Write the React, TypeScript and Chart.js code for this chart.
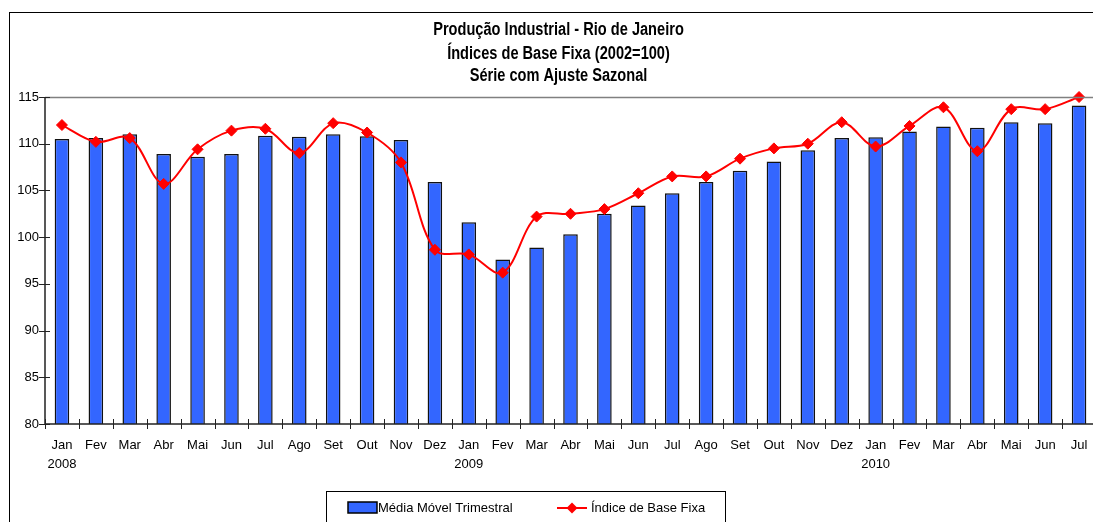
import React, { useEffect, useRef } from 'react';
import { Chart, registerables } from 'chart.js';

Chart.register(...registerables);

const months = [
  'Jan', 'Fev', 'Mar', 'Abr', 'Mai', 'Jun', 'Jul', 'Ago', 'Set', 'Out', 'Nov', 'Dez',
  'Jan', 'Fev', 'Mar', 'Abr', 'Mai', 'Jun', 'Jul', 'Ago', 'Set', 'Out', 'Nov', 'Dez',
  'Jan', 'Fev', 'Mar', 'Abr', 'Mai', 'Jun', 'Jul',
];
const years = ['2008', '2009', '2010'];

const mediaMovel = [
  110.5, 110.6, 111.0, 108.9, 108.6, 108.9, 110.85, 110.75, 111.0, 110.8, 110.4, 105.9,
  101.6, 97.6, 98.9, 100.3, 102.5, 103.4, 104.7, 105.9, 107.1, 108.1, 109.3, 110.6,
  110.7, 111.3, 111.85, 111.7, 112.3, 112.2, 114.1,
];
const indiceBase = [
  112.0, 110.2, 110.6, 105.7, 109.4, 111.4, 111.6, 109.0, 112.2, 111.2, 108.0, 98.65,
  98.15, 96.2, 102.2, 102.5, 103.0, 104.7, 106.5, 106.5, 108.4, 109.5, 110.0, 112.3,
  109.7, 111.9, 113.9, 109.2, 113.7, 113.7, 115.0,
];
const yTicks = [80, 85, 90, 95, 100, 105, 110, 115];

const titleLines = [
  'Produção Industrial - Rio de Janeiro',
  'Índices de Base Fixa (2002=100)',
  'Série com Ajuste Sazonal',
];
const seriesNames = ['Média Móvel Trimestral', 'Índice de Base Fixa'];

const BAR_COLOR = '#3366ff';
const LINE_COLOR = '#ff0000';
const FONT = '"Liberation Sans", Arial, sans-serif';

const labels = months.map((m, i) => (m === 'Jan' ? [m, years[Math.floor(i / 12)]] : m));

const decorPlugin = {
  id: 'decor',
  afterDraw(chart: any) {
    const ctx = chart.ctx as CanvasRenderingContext2D;
    const area = chart.chartArea;
    const xs = chart.scales.x;
    const ys = chart.scales.y;
    ctx.save();

    // outer frame
    ctx.strokeStyle = '#000';
    ctx.lineWidth = 1;
    ctx.strokeRect(1.5, 4.5, 1300, 1300);

    // plot border (top & right)
    ctx.strokeStyle = '#808080';
    ctx.lineWidth = 1.5;
    ctx.beginPath();
    ctx.moveTo(area.left, Math.round(area.top) + 0.5);
    ctx.lineTo(area.right, Math.round(area.top) + 0.5);
    ctx.lineTo(area.right, area.bottom);
    ctx.stroke();

    // axis lines
    ctx.strokeStyle = '#222';
    ctx.lineWidth = 1.5;
    ctx.beginPath();
    ctx.moveTo(area.left, area.top);
    ctx.lineTo(area.left, area.bottom);
    ctx.lineTo(area.right, area.bottom);
    ctx.stroke();

    // ticks crossing the axes
    ctx.lineWidth = 1;
    ctx.beginPath();
    yTicks.forEach((v) => {
      const y = Math.round(ys.getPixelForValue(v)) + 0.5;
      ctx.moveTo(area.left - 6, y);
      ctx.lineTo(area.left + 5, y);
    });
    for (let i = 0; i <= months.length; i++) {
      const x = Math.round(xs.getPixelForValue(i - 0.5)) + 0.5;
      ctx.moveTo(x, area.bottom - 5);
      ctx.lineTo(x, area.bottom + 5);
    }
    ctx.stroke();

    // title (condensed bold)
    ctx.fillStyle = '#000';
    ctx.textAlign = 'center';
    ctx.textBaseline = 'alphabetic';
    ctx.font = `bold 17.5px ${FONT}`;
    const baselines = [27, 50.5, 73];
    titleLines.forEach((t, i) => {
      ctx.save();
      ctx.translate(550.5, baselines[i]);
      ctx.scale(0.834, 1);
      ctx.fillText(t, 0, 0);
      ctx.restore();
    });

    // legend
    ctx.strokeStyle = '#000';
    ctx.lineWidth = 1;
    ctx.strokeRect(318.5, 483.5, 399, 100);
    ctx.fillStyle = BAR_COLOR;
    ctx.fillRect(340, 494, 29, 11);
    ctx.lineWidth = 1.5;
    ctx.strokeRect(340, 494, 29, 11);
    ctx.fillStyle = '#000';
    ctx.textAlign = 'left';
    ctx.textBaseline = 'middle';
    ctx.font = `13px ${FONT}`;
    ctx.fillText(seriesNames[0], 370, 500);
    ctx.strokeStyle = LINE_COLOR;
    ctx.lineWidth = 2;
    ctx.beginPath();
    ctx.moveTo(549, 500);
    ctx.lineTo(579, 500);
    ctx.stroke();
    ctx.fillStyle = LINE_COLOR;
    ctx.beginPath();
    ctx.moveTo(564, 494.5);
    ctx.lineTo(569.5, 500);
    ctx.lineTo(564, 505.5);
    ctx.lineTo(558.5, 500);
    ctx.closePath();
    ctx.fill();
    ctx.fillStyle = '#000';
    ctx.fillText(seriesNames[1], 583, 500);

    ctx.restore();
  },
};

export default function App() {
  const ref = useRef<HTMLCanvasElement>(null);
  useEffect(() => {
    document.documentElement.style.overflow = 'hidden';
    document.body.style.margin = '0';
    const chart = new Chart(ref.current as HTMLCanvasElement, {
      type: 'bar',
      data: {
        labels,
        datasets: [
          {
            type: 'line',
            label: seriesNames[1],
            data: indiceBase,
            borderColor: LINE_COLOR,
            backgroundColor: LINE_COLOR,
            borderWidth: 2,
            tension: 0.35,
            pointStyle: 'rectRot',
            pointRadius: 5.5,
            pointBorderWidth: 1,
            pointBackgroundColor: LINE_COLOR,
            pointBorderColor: LINE_COLOR,
            clip: false,
            order: 0,
          } as any,
          {
            type: 'bar',
            label: seriesNames[0],
            data: mediaMovel,
            backgroundColor: BAR_COLOR,
            borderColor: '#111',
            borderWidth: 1.5,
            barPercentage: 0.43,
            categoryPercentage: 1,
            order: 1,
          } as any,
        ],
      },
      options: {
        responsive: false,
        animation: false,
        layout: { padding: { left: 0, top: 89, right: 22, bottom: 64 } },
        plugins: {
          legend: { display: false },
          title: { display: false },
          tooltip: { enabled: false },
        },
        scales: {
          x: {
            grid: { display: false, drawTicks: false, offset: true },
            border: { display: false },
            ticks: {
              color: '#000',
              font: { family: FONT, size: 13, lineHeight: 1.45 },
              padding: 12,
              maxRotation: 0,
              autoSkip: false,
            },
            afterFit: (s: any) => {
              s.height = 60;
            },
          },
          y: {
            min: 80,
            max: 115,
            grid: { display: false, drawTicks: false },
            border: { display: false },
            ticks: {
              stepSize: 5,
              color: '#000',
              font: { family: FONT, size: 13 },
              padding: 6,
            },
            afterFit: (s: any) => {
              s.width = 37;
            },
          },
        },
      },
      plugins: [decorPlugin],
    });
    return () => chart.destroy();
  }, []);
  return (
    <div
      style={{
        width: 1093,
        height: 522,
        overflow: 'hidden',
        paddingLeft: 8,
        paddingTop: 8,
        boxSizing: 'border-box',
      }}
    >
      <canvas ref={ref} width={1110} height={540} style={{ display: 'block' }} />
    </div>
  );
}
